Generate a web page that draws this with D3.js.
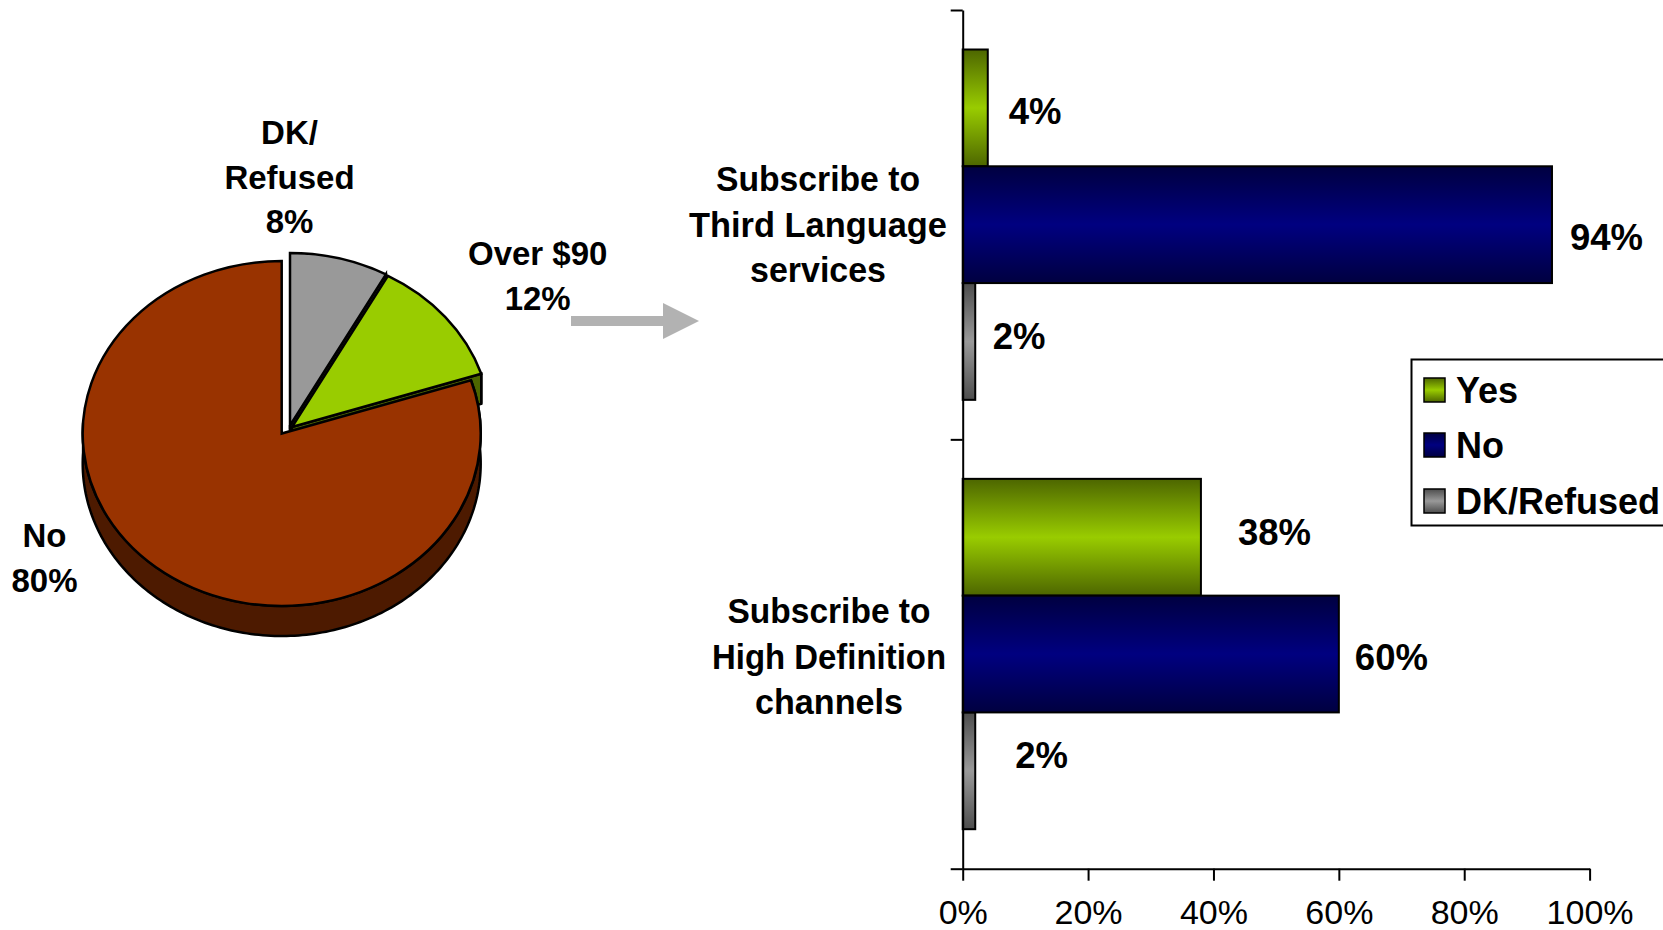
<!DOCTYPE html>
<html>
<head>
<meta charset="utf-8">
<style>
  html, body { margin: 0; padding: 0; background: #fff; overflow: hidden; }
  text { font-family: "Liberation Sans", Arial, sans-serif; fill: #000; }
</style>
<script src="https://cdn.jsdelivr.net/npm/d3@7"></script>
</head>
<body>
<div id="chart"></div>
<script>
// Pie data
var pieNames = ["DK/Refused", "Over $90", "No"];
var pieValues = [8, 12, 80];

// Bar data
var categories = ["Subscribe to Third Language services", "Subscribe to High Definition channels"];
var seriesNames = ["Yes", "No", "DK/Refused"];
var yesValues = [4, 38];
var noValues = [94, 60];
var dkValues = [2, 2];
var xTicks = [0, 20, 40, 60, 80, 100];

var width = 1663, height = 930;
var svg = d3.select("#chart").append("svg").attr("width", width).attr("height", height);
var defs = svg.append("defs");

// Colors: [dark edge, bright middle]
var barColors = { "Yes": ["#4d6600", "#99cc00"], "No": ["#000040", "#000080"], "DK/Refused": ["#4d4d4d", "#999999"] };
var pieColors = { "DK/Refused": ["#4d4d4d", "#999999"], "Over $90": ["#4d6600", "#99cc00"], "No": ["#4d1a00", "#993300"] };

seriesNames.forEach(function(name, i) {
  var grad = defs.append("linearGradient").attr("id", "grad" + i)
    .attr("x1", 0).attr("x2", 0).attr("y1", 0).attr("y2", 1);
  grad.append("stop").attr("offset", "0%").attr("stop-color", barColors[name][0]);
  grad.append("stop").attr("offset", "50%").attr("stop-color", barColors[name][1]);
  grad.append("stop").attr("offset", "100%").attr("stop-color", barColors[name][0]);
});

// ---- Pie ----
var rx = 199, ry = 172.5, depth = 30;
var pieCenters = { "DK/Refused": [290, 425.5], "Over $90": [292, 427], "No": [281.7, 433.5] };
var slices = d3.pie().sort(null)(pieValues);
var arcUnit = d3.arc().innerRadius(0).outerRadius(1);

function rimPoint(name, angle, dy) {
  var c = pieCenters[name];
  return [c[0] + rx * Math.sin(angle), c[1] - ry * Math.cos(angle) + dy];
}

var pieLine = d3.line();
var pieG = svg.append("g");

function drawWall(name, a0, a1) {
  // side of a slice between two rim angles, sampled along the ellipse
  var angles = d3.range(a0, a1, 0.02).concat([a1]);
  var top = angles.map(function(a) { return rimPoint(name, a, 0); });
  var bottom = angles.map(function(a) { return rimPoint(name, a, depth); }).reverse();
  pieG.append("path").attr("d", pieLine(top.concat(bottom)) + "Z")
    .attr("fill", pieColors[name][0]).attr("stroke", "#000").attr("stroke-width", 2.5);
}

function drawCut(name, angle) {
  // straight cut face of a slice, from the centre to the rim
  var c = pieCenters[name];
  var p = rimPoint(name, angle, 0);
  var pts = [c, p, [p[0], p[1] + depth], [c[0], c[1] + depth]];
  pieG.append("path").attr("d", pieLine(pts) + "Z")
    .attr("fill", pieColors[name][0]).attr("stroke", "#000").attr("stroke-width", 2.5);
}

function drawTop(name, d) {
  var c = pieCenters[name];
  pieG.append("path").attr("d", arcUnit(d))
    .attr("transform", "translate(" + c[0] + "," + c[1] + ") scale(" + rx + "," + ry + ")")
    .attr("fill", pieColors[name][1]).attr("stroke", "#000").attr("stroke-width", 2.5)
    .attr("vector-effect", "non-scaling-stroke");
}

// painter's order: grey, green, then the big slice in front
drawCut("DK/Refused", slices[0].endAngle);
drawTop("DK/Refused", slices[0]);
drawCut("Over $90", slices[1].endAngle);
drawWall("Over $90", Math.PI / 2 - 0.01, slices[1].endAngle);
drawTop("Over $90", slices[1]);
drawWall("No", slices[2].startAngle, Math.PI * 1.52);
drawTop("No", slices[2]);

// pie labels
var pieLabels = [
  { lines: ["DK/", "Refused", "8%"], x: 289.5, y: [144, 189, 233] },
  { lines: ["Over $90", "12%"], x: 537.7, y: [265, 309.5] },
  { lines: ["No", "80%"], x: 44.5, y: [546.5, 591.5] }
];
pieLabels.forEach(function(l) {
  l.lines.forEach(function(t, i) {
    svg.append("text").attr("x", l.x).attr("y", l.y[i]).attr("text-anchor", "middle")
      .attr("font-size", 33).attr("font-weight", "bold").text(t);
  });
});

// ---- Arrow ----
svg.append("path")
  .attr("d", "M571,316H663V303L699,321L663,339V326H571Z")
  .attr("fill", "#b2b2b2");

// ---- Bars ----
var x0 = 962.7, x1 = 1589.6, yTop = 10, yBottom = 868.7;
var xScale = d3.scaleLinear().domain([0, 100]).range([x0, x1]);
var yGroup = d3.scaleBand().domain(categories).range([yTop, yBottom]).paddingInner(0.184).paddingOuter(0.092);
var ySeries = d3.scaleBand().domain(seriesNames).range([0, yGroup.bandwidth()]);
var seriesValues = [yesValues, noValues, dkValues];

// DK bars first so the navy bar sits on top of its neighbours' edges
[0, 2, 1].forEach(function(s) {
  svg.append("g").selectAll("rect")
    .data(categories)
    .enter()
    .append("rect")
    .attr("x", x0)
    .attr("y", function(d) { return yGroup(d) + ySeries(seriesNames[s]); })
    .attr("width", function(d, i) { return xScale(seriesValues[s][i]) - x0; })
    .attr("height", ySeries.bandwidth())
    .attr("fill", "url(#grad" + s + ")")
    .attr("stroke", "#000")
    .attr("stroke-width", 2);
});

// data labels, hand placed like the original
var labelGaps = [[21, 37], [18, 16], [17.5, 40]];
var labelYs = [[124, 545], [249.5, 669.5], [349, 768]];
seriesValues.forEach(function(vals, s) {
  vals.forEach(function(v, i) {
    svg.append("text").attr("x", xScale(v) + labelGaps[s][i]).attr("y", labelYs[s][i])
      .attr("font-size", 36.5).attr("font-weight", "bold").text(v + "%");
  });
});

// axes
var xAxis = d3.axisBottom(xScale).tickValues(xTicks).tickSize(12).tickSizeOuter(0).tickPadding(19)
  .tickFormat(function(d) { return d + "%"; });
var xG = svg.append("g").attr("transform", "translate(0," + yBottom + ")").call(xAxis);
xG.selectAll("text").attr("font-size", 34).attr("font-family", "Liberation Sans").attr("dy", "0.71em");
xG.selectAll("line, path").attr("stroke", "#000").attr("stroke-width", 2);

var ySep = d3.scaleLinear().domain([0, categories.length]).range([yTop, yBottom]);
var yAxis = d3.axisLeft(ySep).ticks(categories.length).tickSize(12).tickSizeOuter(0).tickFormat("");
var yG = svg.append("g").attr("transform", "translate(" + x0 + ",0)").call(yAxis);
yG.selectAll("line, path").attr("stroke", "#000").attr("stroke-width", 2);

// category labels, widths squeezed to what the original shows
var catLabels = [
  { lines: ["Subscribe to", "Third Language", "services"], widths: [204, 258, 136], x: 818, y: [191, 237, 282] },
  { lines: ["Subscribe to", "High Definition", "channels"], widths: [203, 234, 148], x: 829, y: [623, 668.5, 714] }
];
catLabels.forEach(function(l) {
  l.lines.forEach(function(t, i) {
    svg.append("text").attr("x", l.x).attr("y", l.y[i]).attr("text-anchor", "middle")
      .attr("font-size", 34.4).attr("font-weight", "bold")
      .attr("textLength", l.widths[i]).attr("lengthAdjust", "spacingAndGlyphs").text(t);
  });
});

// ---- Legend ----
svg.append("rect").attr("x", 1411.5).attr("y", 359.5).attr("width", 300).attr("height", 166)
  .attr("fill", "#fff").attr("stroke", "#000").attr("stroke-width", 2);
var legendTop = [378, 433, 489];
seriesNames.forEach(function(name, i) {
  svg.append("rect").attr("x", 1424).attr("y", legendTop[i]).attr("width", 21).attr("height", 24)
    .attr("fill", "url(#grad" + i + ")").attr("stroke", "#000").attr("stroke-width", 1.5);
  svg.append("text").attr("x", 1456).attr("y", legendTop[i] + 25)
    .attr("font-size", 36).attr("font-weight", "bold").text(name);
});
</script>
</body>
</html>
